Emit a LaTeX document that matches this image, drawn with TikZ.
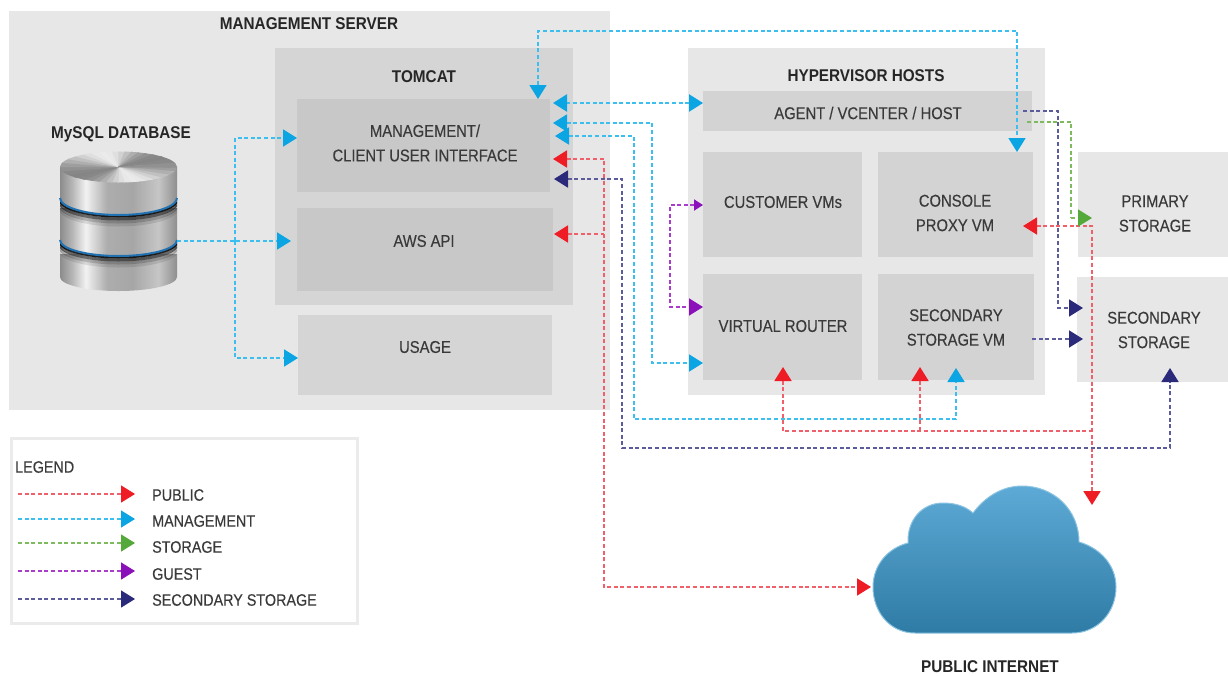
\documentclass[tikz,border=0pt]{standalone}
\usepackage{fontspec}
\usetikzlibrary{arrows.meta,calc}
\newfontfamily\labfont[FakeStretch=0.87,FakeBold=0.25]{Liberation Sans}
\newfontfamily\titlefont[FakeStretch=0.9]{Liberation Sans Bold}
\definecolor{bgA}{HTML}{E8E7E8}
\definecolor{bgB}{HTML}{D6D5D6}
\definecolor{bgC}{HTML}{C9C8C9}
\definecolor{bgD}{HTML}{D4D3D4}
\definecolor{txt}{HTML}{3A3A3A}
\definecolor{lnPub}{HTML}{F0606A}\definecolor{hdPub}{HTML}{EE1C25}
\definecolor{lnMgt}{HTML}{3CBFEE}\definecolor{hdMgt}{HTML}{0AA5E2}
\definecolor{lnSto}{HTML}{7DBB5E}\definecolor{hdSto}{HTML}{55A83A}
\definecolor{lnGst}{HTML}{A93CCB}\definecolor{hdGst}{HTML}{8A10BA}
\definecolor{lnSec}{HTML}{5C5C9C}\definecolor{hdSec}{HTML}{2B2A7A}
\definecolor{dbStripe}{HTML}{2272B2}
\definecolor{cloudTop}{HTML}{5EAAD6}\definecolor{cloudBot}{HTML}{2E7BA5}\definecolor{cloudEdge}{HTML}{8CC4E2}
\definecolor{m0}{HTML}{8C8C8C}\definecolor{m1}{HTML}{B4B4B4}\definecolor{m2}{HTML}{F2F2F2}
\definecolor{m3}{HTML}{ADADAD}\definecolor{m4}{HTML}{A6A6A6}\definecolor{m5}{HTML}{C6C6C6}\definecolor{m6}{HTML}{8E8E8E}
\pgfdeclarehorizontalshading{metal}{100bp}{color(0bp)=(m0); color(25bp)=(m0); color(30bp)=(m1); color(36bp)=(m2); color(45bp)=(m3); color(56bp)=(m4); color(67bp)=(m5); color(75bp)=(m6); color(100bp)=(m6)}
\tikzset{
  area/.style={rectangle,inner sep=0pt,outer sep=0pt},
  zoneA/.style={area,fill=bgA},
  zoneB/.style={area,fill=bgB},
  zoneC/.style={area,fill=bgC},
  zoneD/.style={area,fill=bgD},
  lab/.style={inner sep=0pt,align=center,text=txt,font=\labfont\fontsize{17}{24.5}\selectfont},
  title/.style={lab,text=black!85,font=\titlefont\fontsize{17}{24.5}\selectfont},
  leglab/.style={lab,anchor=west,font=\labfont\fontsize{16.5}{20}\selectfont},
  flow/.style={line width=1.8pt,dash pattern=on 4pt off 2.6pt},
  pub/.style={flow,draw=lnPub},
  mgt/.style={flow,draw=lnMgt},
  sto/.style={flow,draw=lnSto,line width=1.4pt},
  gst/.style={flow,draw=lnGst},
  sec/.style={flow,draw=lnSec},
  legline/.style={line width=1.4pt},
  tPub/.tip={Triangle[length=14pt,width=17pt,color=hdPub,fill=hdPub]},
  tMgt/.tip={Triangle[length=14pt,width=17pt,color=hdMgt,fill=hdMgt]},
  tSto/.tip={Triangle[length=14pt,width=17pt,color=hdSto,fill=hdSto]},
  tGst/.tip={Triangle[length=14pt,width=17pt,color=hdGst,fill=hdGst]},
  tGsm/.tip={Triangle[length=9pt,width=11pt,color=hdGst,fill=hdGst]},
  tSec/.tip={Triangle[length=14pt,width=17pt,color=hdSec,fill=hdSec]},
}
\begin{document}
\begin{tikzpicture}[x=1pt,y=-1pt]
\useasboundingbox (0,0) rectangle (1228,675);
% areas
\node[zoneA,minimum width=601pt,minimum height=399pt] (server) at (309.5,210.5) {};
\node[zoneB,minimum width=298pt,minimum height=257pt] (tomcat) at (424,176.5) {};
\node[zoneC,minimum width=253pt,minimum height=93pt] (mgmt) at (423.5,145.5) {};
\node[zoneC,minimum width=256pt,minimum height=83pt] (aws) at (425,249.5) {};
\node[zoneB,minimum width=254pt,minimum height=80pt] (usage) at (425,355) {};
\node[zoneA,minimum width=357pt,minimum height=347pt] (hyper) at (866.5,221.5) {};
\node[zoneD,minimum width=329pt,minimum height=40pt] (agent) at (867.5,111) {};
\node[zoneD,minimum width=159pt,minimum height=105pt] (cust) at (782.5,204.5) {};
\node[zoneD,minimum width=155pt,minimum height=105pt] (console) at (955.5,204.5) {};
\node[zoneD,minimum width=159pt,minimum height=106pt] (vr) at (782.5,327) {};
\node[zoneD,minimum width=156pt,minimum height=106pt] (ssvm) at (956,327) {};
\node[zoneA,minimum width=150pt,minimum height=105pt] (prim) at (1153,204.5) {};
\node[zoneA,minimum width=151pt,minimum height=105pt] (secst) at (1152.5,329.5) {};
\node[area,draw=black!8,line width=3pt,fill=white,minimum width=346pt,minimum height=185pt] (legend) at (184,530.5) {};
% labels
\node[title] (tServer) at (309,24) {MANAGEMENT SERVER};
\node[title] (tTomcat) at (424,77) {TOMCAT};
\node[title] (tDb) at (121,134) {MySQL DATABASE};
\node[title] (tHyper) at (866,76) {HYPERVISOR HOSTS};
\node[title] (tNet) at (990,667) {PUBLIC INTERNET};
\node[lab] (lMgmt) at (425,143) {MANAGEMENT/\\CLIENT USER INTERFACE};
\node[lab] (lAws) at (424,241) {AWS API};
\node[lab] (lUsage) at (425,347) {USAGE};
\node[lab] (lAgent) at (868,113) {AGENT / VCENTER / HOST};
\node[lab] (lCust) at (783,202) {CUSTOMER VMs};
\node[lab] (lCons) at (955,213) {CONSOLE\\PROXY VM};
\node[lab] (lVr) at (783,326) {VIRTUAL ROUTER};
\node[lab] (lSsvm) at (956,327.5) {SECONDARY\\STORAGE VM};
\node[lab] (lPrim) at (1155,213.5) {PRIMARY\\STORAGE};
\node[lab] (lSec) at (1154,330) {SECONDARY\\STORAGE};
% database
\path[shading=metal] (60,254) -- (60,277) arc[start angle=180,end angle=0,x radius=58.5,y radius=14] -- (177,254) -- cycle;
\begin{scope}
  \clip (60,240) -- (60,277) arc[start angle=180,end angle=0,x radius=58.5,y radius=14] -- (177,240) -- cycle;
  \foreach \o/\p in {1/.85,4/.55,7/.25,10/.1}
    \draw[black,opacity=\p,line width=3pt] (60,240+\o) arc[start angle=180,end angle=0,x radius=58.5,y radius=16];
\end{scope}
\path[shading=metal] (60,208) -- (60,240) arc[start angle=180,end angle=0,x radius=58.5,y radius=16] -- (177,208) -- cycle;
\begin{scope}
  \clip (60,198) -- (60,240) arc[start angle=180,end angle=0,x radius=58.5,y radius=16] -- (177,198) -- cycle;
  \foreach \o/\p in {1/.85,4/.55,7/.25,10/.1}
    \draw[black,opacity=\p,line width=3pt] (60,198+\o) arc[start angle=180,end angle=0,x radius=58.5,y radius=17];
\end{scope}
\path[shading=metal] (60,167) -- (60,198) arc[start angle=180,end angle=0,x radius=58.5,y radius=17] -- (177,167) -- cycle;
\draw[line width=2pt,draw=dbStripe] (60,198) arc[start angle=180,end angle=0,x radius=58.5,y radius=17];
\draw[line width=2pt,draw=dbStripe] (60,240) arc[start angle=180,end angle=0,x radius=58.5,y radius=16];
\begin{scope}
  \clip (118.5,167) ellipse[x radius=58.5,y radius=15.5];
  \foreach \a in {0,10,...,350}{
    \pgfmathsetmacro\g{72+20*cos(2*(\a-60))}
    \path[fill=white!\g!black,draw=white!\g!black,line width=.3pt] (118.5,167) -- +(\a:70 and 30) -- +(\a+11:70 and 30) -- cycle;
  }
\end{scope}
\node[area,minimum width=117pt,minimum height=139pt] (db) at (118.5,222) {};
% cloud
\path[draw=cloudEdge,line width=1pt,top color=cloudTop,bottom color=cloudBot]
  (915,633) -- (1072,633) .. controls (1098,633) and (1116,612) .. (1116,587)
  .. controls (1116,565) and (1100,548) .. (1079,542)
  .. controls (1079,510) and (1054,486) .. (1022,486)
  .. controls (1002,486) and (985,497) .. (973,513)
  .. controls (965,506) and (955,503) .. (943,503)
  .. controls (922,503) and (907,520) .. (908,543)
  .. controls (888,548) and (873,565) .. (873,587)
  .. controls (873,612) and (890,633) .. (915,633) -- cycle;
\node[area,minimum width=243pt,minimum height=147pt] (cloud) at (994.5,559.5) {};
% junctions
\coordinate (jDb) at (235,241);
\coordinate (jPub) at (604,234);
\coordinate (jCons) at (1092,226);
\coordinate (jLow) at (1092,431);
\coordinate (jSs) at (919.5,431);
% management
\draw[mgt,-tMgt] (db.east |- 0,241) -- ([xshift=-6pt]aws.west |- 0,241);
\draw[mgt,-tMgt] (jDb) |- (mgmt.west |- 0,138);
\draw[mgt,-tMgt] (jDb) |- (usage.west |- 0,358);
\draw[mgt,tMgt-tMgt,line width=2.4pt] ([xshift=3pt]mgmt.east |- 0,103) -- (agent.west |- 0,103);
\draw[mgt,line width=1.5pt,tMgt-tMgt] (538,99) -- (538,31) -- (1017,31) -- (1017,152);
\draw[mgt,tMgt-tMgt] ([xshift=3pt]mgmt.east |- 0,123) -- (652,123) -- (652,363) -- (vr.west |- 0,363);
\draw[mgt,tMgt-tMgt] ([xshift=5pt]mgmt.east |- 0,136) -- (634,136) -- (634,419) -- (956,419) -- (956,368);
% public
\draw[pub,tPub-tPub] ([xshift=3pt]mgmt.east |- 0,159) -- (604,159) -- (604,587) -- ([xshift=-2pt]cloud.west |- 0,587);
\draw[pub,tPub-] ([xshift=1pt]aws.east |- jPub) -- (jPub);
\draw[pub,tPub-tPub] (1023,226) -- (jCons) -- (1092,505);
\draw[pub,tPub-] (783,367) -- (783,431) -- (jLow);
\draw[pub,tPub-] (920,367) -- (920,431);
% secondary storage
\draw[sec,tSec-tSec] ([xshift=4pt]mgmt.east |- 0,179) -- (622,179) -- (622,448) -- (1170,448) -- (1170,368);
\draw[sec,-tSec] (1023,111) -- (1058,111) -- (1058,308) -- ([xshift=6pt]secst.west |- 0,308);
\draw[sec,-tSec] ([xshift=-2pt]ssvm.east |- 0,339) -- ([xshift=6pt]secst.west |- 0,339);
% storage
\draw[sto] (1027,122) -- (1071,122) -- (1071,218);
\draw[sto,-tSto] (1071,218) -- ([xshift=14pt]prim.west |- 0,218);
% guest
\draw[gst,tGsm-tGst] (cust.west |- 0,205) -- (670,205) -- (670,307) -- (vr.west |- 0,307);
% legend
\node[lab,anchor=west,font=\labfont\fontsize{16.5}{20}\selectfont] (lgT) at (15,467) {LEGEND};
\node[leglab] (lgA) at (152,495) {PUBLIC};
\node[leglab] (lgB) at (152,521) {MANAGEMENT};
\node[leglab] (lgC) at (152,547) {STORAGE};
\node[leglab] (lgD) at (152,574) {GUEST};
\node[leglab] (lgE) at (152,600) {SECONDARY STORAGE};
\coordinate (sA) at (18,494);
\coordinate (sB) at (18,519);
\coordinate (sC) at (18,543);
\coordinate (sD) at (18,571);
\coordinate (sE) at (18,599);
\draw[pub,legline,-tPub] (sA) -- ([xshift=-17pt]lgA.west |- sA);
\draw[mgt,legline,-tMgt] (sB) -- ([xshift=-17pt]lgB.west |- sB);
\draw[sto,legline,-tSto] (sC) -- ([xshift=-17pt]lgC.west |- sC);
\draw[gst,legline,-tGst] (sD) -- ([xshift=-17pt]lgD.west |- sD);
\draw[sec,legline,-tSec] (sE) -- ([xshift=-17pt]lgE.west |- sE);
\end{tikzpicture}
\end{document}
